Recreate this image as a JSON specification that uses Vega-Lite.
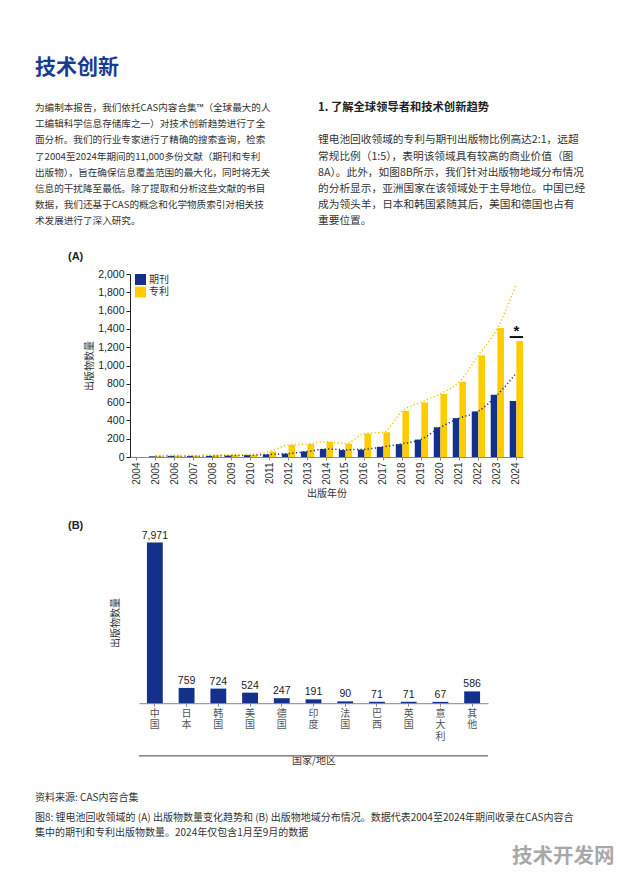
{
  "$schema": "https://vega.github.io/schema/vega-lite/v6.json",
  "background": "white",
  "padding": {"left": 35, "top": 57, "right": 0, "bottom": 0},
  "config": {
    "view": {"stroke": null},
    "font": "Noto Sans CJK SC",
    "axis": {"grid": false}
  },
  "title": {"text": "技术创新", "anchor": "start", "fontSize": 21, "fontWeight": "bold", "color": "#1a3c8f", "font": "Noto Sans CJK SC", "offset": 24},
  "spacing": 20,
  "vconcat": [
    {
      "width": 283,
      "height": 122.5,
      "layer": [
        {
          "data": {"values": [
            {"col": "L", "line": 1, "text": "为编制本报告，我们依托CAS内容合集™（全球最大的人"},
            {"col": "L", "line": 2, "text": "工编辑科学信息存储库之一）对技术创新趋势进行了全"},
            {"col": "L", "line": 3, "text": "面分析。我们的行业专家进行了精确的搜索查询，检索"},
            {"col": "L", "line": 4, "text": "了2004至2024年期间的11,000多份文献（期刊和专利"},
            {"col": "L", "line": 5, "text": "出版物），旨在确保信息覆盖范围的最大化，同时将无关"},
            {"col": "L", "line": 6, "text": "信息的干扰降至最低。除了提取和分析这些文献的书目"},
            {"col": "L", "line": 7, "text": "数据，我们还基于CAS的概念和化学物质索引对相关技"},
            {"col": "L", "line": 8, "text": "术发展进行了深入研究。"}
          ]},
          "mark": {"type": "text", "align": "left", "baseline": "middle", "fontSize": 9.6, "color": "#333333"},
          "encoding": {
            "x": {"field": "col", "type": "nominal", "scale": {"type": "point", "domain": ["L", "R"], "padding": 0}, "axis": null},
            "y": {"field": "line", "type": "quantitative", "scale": {"domain": [1, 8.562], "reverse": true, "nice": false, "zero": false}, "axis": null},
            "text": {"field": "text"}
          }
        },
        {
          "data": {"values": [
            {"col": "R", "line": 3, "text": "锂电池回收领域的专利与期刊出版物比例高达2:1，远超"},
            {"col": "R", "line": 4, "text": "常规比例（1:5），表明该领域具有较高的商业价值（图"},
            {"col": "R", "line": 5, "text": "8A）。此外，如图8B所示，我们针对出版物地域分布情况"},
            {"col": "R", "line": 6, "text": "的分析显示，亚洲国家在该领域处于主导地位。中国已经"},
            {"col": "R", "line": 7, "text": "成为领头羊，日本和韩国紧随其后，美国和德国也占有"},
            {"col": "R", "line": 8, "text": "重要位置。"}
          ]},
          "mark": {"type": "text", "align": "left", "baseline": "middle", "fontSize": 10.7, "color": "#333333"},
          "encoding": {
            "x": {"field": "col", "type": "nominal", "axis": null},
            "y": {"field": "line", "type": "quantitative", "axis": null},
            "text": {"field": "text"}
          }
        },
        {
          "data": {"values": [
            {"col": "R", "line": 1, "text": "1. 了解全球领导者和技术创新趋势"}
          ]},
          "mark": {"type": "text", "align": "left", "baseline": "middle", "fontSize": 11.3, "fontWeight": "bold", "color": "#222222"},
          "encoding": {
            "x": {"field": "col", "type": "nominal", "axis": null},
            "y": {"field": "line", "type": "quantitative", "axis": null},
            "text": {"field": "text"}
          }
        }
      ]
    },
    {
      "width": 488,
      "height": 183,
      "title": {"text": "(A)", "anchor": "start", "frame": "group", "dx": 33, "offset": 7, "fontSize": 11, "fontWeight": "bold", "font": "Liberation Sans", "color": "#222222"},
      "data": {"values": [
        {"year": "2004", "type": "期刊", "kind": "bar", "value": 1},
        {"year": "2004", "type": "专利", "kind": "bar", "value": 0},
        {"year": "2005", "type": "期刊", "kind": "bar", "value": 8},
        {"year": "2005", "type": "专利", "kind": "bar", "value": 10},
        {"year": "2006", "type": "期刊", "kind": "bar", "value": 12},
        {"year": "2006", "type": "专利", "kind": "bar", "value": 15},
        {"year": "2007", "type": "期刊", "kind": "bar", "value": 12},
        {"year": "2007", "type": "专利", "kind": "bar", "value": 14},
        {"year": "2008", "type": "期刊", "kind": "bar", "value": 12},
        {"year": "2008", "type": "专利", "kind": "bar", "value": 20},
        {"year": "2009", "type": "期刊", "kind": "bar", "value": 15},
        {"year": "2009", "type": "专利", "kind": "bar", "value": 25},
        {"year": "2010", "type": "期刊", "kind": "bar", "value": 20},
        {"year": "2010", "type": "专利", "kind": "bar", "value": 25},
        {"year": "2011", "type": "期刊", "kind": "bar", "value": 28},
        {"year": "2011", "type": "专利", "kind": "bar", "value": 60},
        {"year": "2012", "type": "期刊", "kind": "bar", "value": 36},
        {"year": "2012", "type": "专利", "kind": "bar", "value": 132},
        {"year": "2013", "type": "期刊", "kind": "bar", "value": 60},
        {"year": "2013", "type": "专利", "kind": "bar", "value": 140},
        {"year": "2014", "type": "期刊", "kind": "bar", "value": 87},
        {"year": "2014", "type": "专利", "kind": "bar", "value": 165},
        {"year": "2015", "type": "期刊", "kind": "bar", "value": 76},
        {"year": "2015", "type": "专利", "kind": "bar", "value": 145},
        {"year": "2016", "type": "期刊", "kind": "bar", "value": 80},
        {"year": "2016", "type": "专利", "kind": "bar", "value": 255},
        {"year": "2017", "type": "期刊", "kind": "bar", "value": 110},
        {"year": "2017", "type": "专利", "kind": "bar", "value": 270},
        {"year": "2018", "type": "期刊", "kind": "bar", "value": 140},
        {"year": "2018", "type": "专利", "kind": "bar", "value": 505},
        {"year": "2019", "type": "期刊", "kind": "bar", "value": 190},
        {"year": "2019", "type": "专利", "kind": "bar", "value": 597},
        {"year": "2020", "type": "期刊", "kind": "bar", "value": 325},
        {"year": "2020", "type": "专利", "kind": "bar", "value": 690},
        {"year": "2021", "type": "期刊", "kind": "bar", "value": 425},
        {"year": "2021", "type": "专利", "kind": "bar", "value": 822},
        {"year": "2022", "type": "期刊", "kind": "bar", "value": 498},
        {"year": "2022", "type": "专利", "kind": "bar", "value": 1110},
        {"year": "2023", "type": "期刊", "kind": "bar", "value": 680},
        {"year": "2023", "type": "专利", "kind": "bar", "value": 1410},
        {"year": "2024", "type": "期刊", "kind": "bar", "value": 612},
        {"year": "2024", "type": "专利", "kind": "bar", "value": 1268},
        {"year": "2005", "type": "期刊", "kind": "trend", "value": 8},
        {"year": "2006", "type": "期刊", "kind": "trend", "value": 12},
        {"year": "2007", "type": "期刊", "kind": "trend", "value": 12},
        {"year": "2008", "type": "期刊", "kind": "trend", "value": 12},
        {"year": "2009", "type": "期刊", "kind": "trend", "value": 15},
        {"year": "2010", "type": "期刊", "kind": "trend", "value": 20},
        {"year": "2011", "type": "期刊", "kind": "trend", "value": 28},
        {"year": "2012", "type": "期刊", "kind": "trend", "value": 38},
        {"year": "2013", "type": "期刊", "kind": "trend", "value": 60},
        {"year": "2014", "type": "期刊", "kind": "trend", "value": 87},
        {"year": "2015", "type": "期刊", "kind": "trend", "value": 80},
        {"year": "2016", "type": "期刊", "kind": "trend", "value": 85},
        {"year": "2017", "type": "期刊", "kind": "trend", "value": 112},
        {"year": "2018", "type": "期刊", "kind": "trend", "value": 145},
        {"year": "2019", "type": "期刊", "kind": "trend", "value": 195},
        {"year": "2020", "type": "期刊", "kind": "trend", "value": 325},
        {"year": "2021", "type": "期刊", "kind": "trend", "value": 425},
        {"year": "2022", "type": "期刊", "kind": "trend", "value": 500},
        {"year": "2023", "type": "期刊", "kind": "trend", "value": 680},
        {"year": "2024", "type": "期刊", "kind": "trend", "value": 918},
        {"year": "2005", "type": "专利", "kind": "trend", "value": 12},
        {"year": "2006", "type": "专利", "kind": "trend", "value": 16},
        {"year": "2007", "type": "专利", "kind": "trend", "value": 16},
        {"year": "2008", "type": "专利", "kind": "trend", "value": 22},
        {"year": "2009", "type": "专利", "kind": "trend", "value": 26},
        {"year": "2010", "type": "专利", "kind": "trend", "value": 28},
        {"year": "2011", "type": "专利", "kind": "trend", "value": 62},
        {"year": "2012", "type": "专利", "kind": "trend", "value": 132},
        {"year": "2013", "type": "专利", "kind": "trend", "value": 142},
        {"year": "2014", "type": "专利", "kind": "trend", "value": 167},
        {"year": "2015", "type": "专利", "kind": "trend", "value": 148},
        {"year": "2016", "type": "专利", "kind": "trend", "value": 255},
        {"year": "2017", "type": "专利", "kind": "trend", "value": 272},
        {"year": "2018", "type": "专利", "kind": "trend", "value": 505},
        {"year": "2019", "type": "专利", "kind": "trend", "value": 600},
        {"year": "2020", "type": "专利", "kind": "trend", "value": 692},
        {"year": "2021", "type": "专利", "kind": "trend", "value": 825},
        {"year": "2022", "type": "专利", "kind": "trend", "value": 1110},
        {"year": "2023", "type": "专利", "kind": "trend", "value": 1410},
        {"year": "2024", "type": "专利", "kind": "trend", "value": 1890}
      ]},
      "encoding": {
        "x": {
          "field": "year", "type": "ordinal",
          "scale": {"range": [95, 488], "paddingInner": 0.3, "paddingOuter": 0},
          "axis": {"title": "出版年份", "labelAngle": -90, "labelFontSize": 10, "labelFont": "Liberation Sans", "labelColor": "#333333", "tickSize": 3, "tickColor": "#888888", "domainColor": "#888888", "titleFontSize": 10, "titleFontWeight": "normal", "titleColor": "#333333", "titlePadding": 4, "labelPadding": 2}
        },
        "y": {
          "field": "value", "type": "quantitative",
          "scale": {"domain": [0, 2000], "nice": false},
          "axis": {"title": "出版物数量", "tickCount": 10, "format": ",d", "labelOverlap": false, "offset": -95, "labelFontSize": 10.5, "labelFont": "Liberation Sans", "labelColor": "#222222", "tickSize": 4, "tickColor": "#222222", "domainColor": "#222222", "titleFontSize": 10, "titleFontWeight": "normal", "titleColor": "#333333", "titlePadding": 3}
        }
      },
      "layer": [
        {
          "transform": [{"filter": "datum.kind === 'bar'"}],
          "mark": {"type": "bar"},
          "encoding": {
            "xOffset": {"field": "type", "type": "nominal", "scale": {"domain": ["期刊", "专利"]}},
            "color": {
              "field": "type", "type": "nominal",
              "scale": {"domain": ["期刊", "专利"], "range": ["#13318c", "#ffcc00"]},
              "legend": {"title": null, "orient": "none", "legendX": 100, "legendY": 166, "symbolType": "square", "symbolSize": 120, "symbolStrokeWidth": 0, "labelFontSize": 10, "labelColor": "#333333", "rowPadding": 1.5, "labelOffset": 3}
            }
          }
        },
        {
          "transform": [{"filter": "datum.kind === 'trend'"}],
          "mark": {"type": "line", "strokeDash": [1.2, 2.4], "strokeWidth": 1.5, "interpolate": "monotone"},
          "encoding": {
            "stroke": {"field": "type", "type": "nominal", "scale": {"domain": ["期刊", "专利"], "range": ["#13318c", "#f5c400"]}, "legend": null}
          }
        },
        {
          "data": {"values": [{"year": "2024", "value": 1300, "hi": 1322}]},
          "mark": {"type": "bar", "color": "#111111"},
          "encoding": {
            "y2": {"field": "hi"}
          }
        },
        {
          "data": {"values": [{"year": "2024", "value": 1375}]},
          "mark": {"type": "text", "text": "*", "fontSize": 15, "fontWeight": "bold", "font": "Liberation Sans", "baseline": "middle", "color": "#111111"}
        }
      ]
    },
    {
      "width": 453,
      "height": 161.2,
      "title": {"text": "(B)", "anchor": "start", "frame": "group", "dx": 33, "offset": 0, "fontSize": 11, "fontWeight": "bold", "font": "Liberation Sans", "color": "#222222"},
      "data": {"values": [
        {"country": "中国", "n": 7971},
        {"country": "日本", "n": 759},
        {"country": "韩国", "n": 724},
        {"country": "美国", "n": 524},
        {"country": "德国", "n": 247},
        {"country": "印度", "n": 191},
        {"country": "法国", "n": 90},
        {"country": "巴西", "n": 71},
        {"country": "英国", "n": 71},
        {"country": "意大利", "n": 67},
        {"country": "其他", "n": 586}
      ]},
      "layer": [
        {
          "mark": {"type": "bar", "color": "#13318c"},
          "encoding": {
            "x": {
              "field": "country", "type": "ordinal", "sort": null,
              "scale": {"range": [104, 453], "paddingInner": 0.5, "paddingOuter": 0.25},
              "axis": {"title": "国家/地区", "labelAngle": 0, "labelExpr": "split(datum.label, '')", "labelLineHeight": 11.7, "labelFontSize": 10, "labelColor": "#555555", "labelBaseline": "top", "tickSize": 3, "tickColor": "#888888", "domainColor": "#888888", "titleFontSize": 10, "titleFontWeight": "normal", "titleColor": "#333333", "titlePadding": 14, "labelPadding": 2}
            },
            "y": {
              "field": "n", "type": "quantitative",
              "scale": {"domain": [0, 8000], "nice": false},
              "axis": {"title": "出版物数量", "offset": -104, "labels": false, "ticks": false, "domain": false, "titleFontSize": 10, "titleFontWeight": "normal", "titleColor": "#333333", "titlePadding": 19}
            }
          }
        },
        {
          "mark": {"type": "text", "baseline": "bottom", "dy": -2, "fontSize": 10.5, "font": "Liberation Sans", "color": "#222222"},
          "encoding": {
            "x": {"field": "country", "type": "ordinal", "sort": null},
            "y": {"field": "n", "type": "quantitative"},
            "text": {"field": "n", "type": "quantitative", "format": ","}
          }
        },
        {
          "mark": {"type": "rule", "color": "#888888", "strokeWidth": 1},
          "encoding": {
            "x": {"datum": "中国", "bandPosition": -0.5},
            "x2": {"datum": "其他", "bandPosition": 1.5},
            "y": {"datum": -2600}
          }
        }
      ]
    },
    {
      "width": 477,
      "height": 76.65,
      "layer": [
        {
          "data": {"values": [
            {"col": "L", "line": 0, "text": "资料来源: CAS内容合集"}
          ]},
          "mark": {"type": "text", "align": "left", "baseline": "middle", "dy": -5, "fontSize": 10, "color": "#333333"},
          "encoding": {
            "x": {"field": "col", "type": "nominal", "scale": {"type": "point", "domain": ["L", "W"], "padding": 0}, "axis": null},
            "y": {"field": "line", "type": "quantitative", "scale": {"domain": [-1.11, 4], "reverse": true, "nice": false, "zero": false}, "axis": null},
            "text": {"field": "text"}
          }
        },
        {
          "data": {"values": [
            {"col": "L", "line": 1, "text": "图8: 锂电池回收领域的 (A) 出版物数量变化趋势和 (B) 出版物地域分布情况。数据代表2004至2024年期间收录在CAS内容合"},
            {"col": "L", "line": 2, "text": "集中的期刊和专利出版物数量。2024年仅包含1月至9月的数据"}
          ]},
          "mark": {"type": "text", "align": "left", "baseline": "middle", "fontSize": 10, "color": "#333333"},
          "encoding": {
            "x": {"field": "col", "type": "nominal", "axis": null},
            "y": {"field": "line", "type": "quantitative", "axis": null},
            "text": {"field": "text"}
          }
        },
        {
          "data": {"values": [{"col": "W", "line": 3, "text": "技术开发网"}]},
          "mark": {"type": "text", "align": "left", "baseline": "middle", "dy": 9, "fontSize": 20.5, "fontWeight": "bold", "color": "#9a9a9a", "opacity": 0.85},
          "encoding": {
            "x": {"field": "col", "type": "nominal", "axis": null},
            "y": {"field": "line", "type": "quantitative", "axis": null},
            "text": {"field": "text"}
          }
        }
      ]
    }
  ]
}
